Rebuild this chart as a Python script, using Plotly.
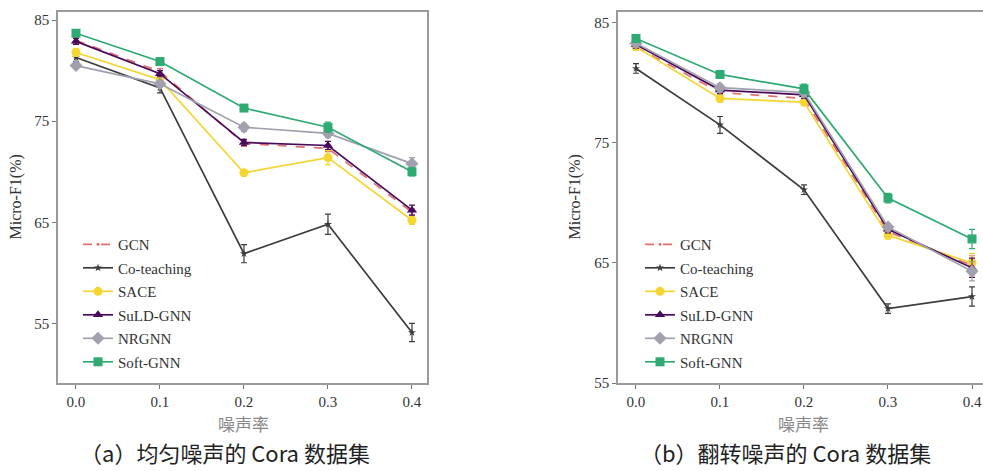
import plotly.graph_objects as go

noise = [0.0, 0.1, 0.2, 0.3, 0.4]
methods = ["GCN", "Co-teaching", "SACE", "SuLD-GNN", "NRGNN", "Soft-GNN"]

# (a) uniform noise
a_gcn = [83.0, 79.9, 72.8, 72.3, 66.0]
a_cot = [81.3, 78.3, 61.9, 64.8, 54.1]
a_sace = [81.8, 79.1, 69.9, 71.4, 65.2]
a_suld = [82.9, 79.7, 72.9, 72.6, 66.2]
a_nrg = [80.5, 78.7, 74.4, 73.8, 70.8]
a_soft = [83.7, 80.9, 76.3, 74.4, 70.0]
a_err = {
    "GCN": [0.3, 0.3, 0.3, 0.3, 0.3],
    "Co-teaching": [0.4, 0.5, 0.9, 1.0, 0.9],
    "SACE": [0.4, 0.3, 0.3, 0.7, 0.4],
    "SuLD-GNN": [0.3, 0.3, 0.3, 0.4, 0.5],
    "NRGNN": [0.3, 0.3, 0.4, 0.4, 0.6],
    "Soft-GNN": [0.3, 0.3, 0.3, 0.5, 0.4],
}

# (b) flip noise
b_gcn = [83.0, 79.2, 78.7, 67.6, 64.8]
b_cot = [81.2, 76.5, 71.1, 61.2, 62.2]
b_sace = [83.0, 78.7, 78.4, 67.3, 65.0]
b_suld = [83.2, 79.4, 79.0, 67.8, 64.6]
b_nrg = [83.3, 79.6, 79.2, 68.0, 64.3]
b_soft = [83.7, 80.7, 79.5, 70.4, 67.0]
b_err = {
    "GCN": [0.3, 0.3, 0.3, 0.3, 0.8],
    "Co-teaching": [0.4, 0.7, 0.4, 0.4, 0.8],
    "SACE": [0.3, 0.3, 0.3, 0.3, 0.8],
    "SuLD-GNN": [0.3, 0.3, 0.3, 0.3, 0.8],
    "NRGNN": [0.3, 0.3, 0.3, 0.3, 0.8],
    "Soft-GNN": [0.3, 0.3, 0.4, 0.4, 0.8],
}

x_ticks = ["0.0", "0.1", "0.2", "0.3", "0.4"]
y_ticks = [55, 65, 75, 85]
x_title = "噪声率"
y_title = "Micro-F1(%)"
captions = ["（a）均匀噪声的 Cora 数据集", "（b）翻转噪声的 Cora 数据集"]

styles = {
    "GCN": dict(color="#e07070", dash="dash", symbol="circle", size=3),
    "Co-teaching": dict(color="#3c3c3c", dash="solid", symbol="star", size=6),
    "SACE": dict(color="#f5d530", dash="solid", symbol="circle", size=9),
    "SuLD-GNN": dict(color="#4a0a5a", dash="solid", symbol="triangle-up", size=9),
    "NRGNN": dict(color="#a0a0ae", dash="solid", symbol="diamond", size=10),
    "Soft-GNN": dict(color="#2eaa72", dash="solid", symbol="square", size=9),
}

serif = "Liberation Serif, Times New Roman, serif"
cjk = "Noto Sans CJK SC, sans-serif"

W, H = 983, 471
K = 1.02  # vertical correction for the capture


def fy(py):
    return 1 - py * K / H


fig = go.Figure()

panels = [
    (dict(zip(methods, [a_gcn, a_cot, a_sace, a_suld, a_nrg, a_soft])), a_err, "x", "y", "legend"),
    (dict(zip(methods, [b_gcn, b_cot, b_sace, b_suld, b_nrg, b_soft])), b_err, "x2", "y2", "legend2"),
]

for data, err, xa, ya, lg in panels:
    for m in methods:
        s = styles[m]
        fig.add_trace(go.Scatter(
            x=noise, y=data[m], name=m, mode="lines+markers",
            xaxis=xa, yaxis=ya, legend=lg, legendgroup=lg + m, cliponaxis=False,
            line=dict(color=s["color"], width=1.7, dash=s["dash"]),
            marker=dict(color=s["color"], symbol=s["symbol"], size=s["size"]),
            error_y=dict(type="data", array=err[m], color=s["color"], thickness=1.2, width=3),
        ))

axis_common = dict(
    showline=True, linecolor="#9a9a9a", linewidth=1.5,
    ticks="outside", ticklen=4, tickcolor="#777", showgrid=False, zeroline=False,
    tickfont=dict(family=serif, size=15, color="#333"),
)

ydom = [fy(382), fy(12)]
fig.update_layout(
    width=W, height=H, margin=dict(l=0, r=0, t=0, b=0),
    plot_bgcolor="white", paper_bgcolor="white",
    xaxis=dict(domain=[58 / W, 427 / W], range=[-0.0214, 0.4179], tickvals=noise, ticktext=x_ticks,
               anchor="y", mirror=True, **axis_common),
    yaxis=dict(domain=ydom, range=[49.1, 85.8], tickvals=y_ticks, anchor="x", mirror=True, **axis_common),
    xaxis2=dict(domain=[618 / W, 1.0], range=[-0.0214, 0.4131], tickvals=noise, ticktext=x_ticks,
                anchor="y2", mirror=True, **axis_common),
    yaxis2=dict(domain=ydom, range=[55, 85.9], tickvals=y_ticks, anchor="x2", mirror=False, **axis_common),
    legend=dict(x=78 / W, y=1 - 232 / H, xanchor="left", yanchor="top", bgcolor="rgba(0,0,0,0)",
                font=dict(family=serif, size=15, color="#333"), tracegroupgap=1, traceorder="grouped"),
    legend2=dict(x=640 / W, y=1 - 232 / H, xanchor="left", yanchor="top", bgcolor="rgba(0,0,0,0)",
                 font=dict(family=serif, size=15, color="#333"), tracegroupgap=1, traceorder="grouped"),
)

annotations = []
for px in [243, 803]:
    annotations.append(dict(text=x_title, x=px / W, y=fy(422), xref="paper", yref="paper",
                            xanchor="center", yanchor="middle",
                            showarrow=False, font=dict(family=cjk, size=17, color="#888")))
for px in [16, 575]:
    annotations.append(dict(text=y_title, x=px / W, y=fy(197), xref="paper", yref="paper",
                            xanchor="center", yanchor="middle",
                            textangle=-90, showarrow=False, font=dict(family=serif, size=16, color="#333")))
for cap, px in zip(captions, [225, 785]):
    annotations.append(dict(text=cap, x=px / W, y=fy(451), xref="paper", yref="paper",
                            xanchor="center", yanchor="middle",
                            showarrow=False, font=dict(family=cjk, size=22, color="#222")))
fig.update_layout(annotations=annotations)

post = (
    "var s=document.createElement('style');"
    "s.innerHTML='html,body{margin:0 !important;padding:0 !important;overflow:hidden !important;}';"
    "document.head.appendChild(s);"
)
fig.write_html("out.html", post_script=post, config={"displayModeBar": False})
